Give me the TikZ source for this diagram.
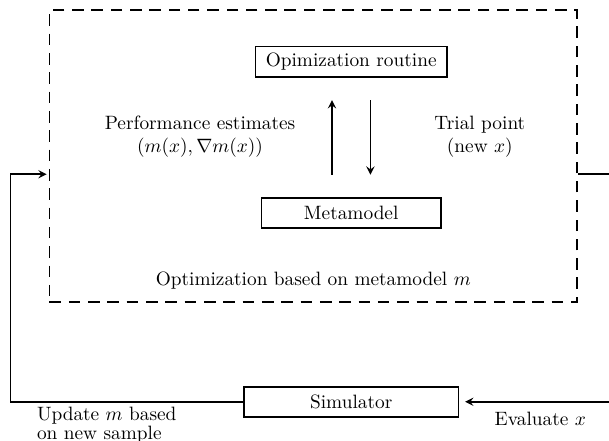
\documentclass[tikz,border=0pt]{standalone}
\usetikzlibrary{arrows}
\newcommand{\boxh}{0.55cm}
\newcommand{\sep}{0.35cm}
\newcommand{\gap}{0.41cm}

\begin{document}
\begin{tikzpicture}[
      block/.style={draw, line width=0.9pt, minimum height=\boxh},
      boundary/.style={draw, line width=0.9pt, dash pattern=on 6pt off 4pt},
      flow/.style={line width=0.9pt,->,>=stealth},
      inner/.style={line width=0.9pt,->,>=stealth,shorten >=\gap,shorten <=\gap},
      txt/.style={align=center}
    ]
    \useasboundingbox (0,0) rectangle (11.08,8.01);
    % the dashed region round the metamodel loop
    \node[boundary, minimum width=9.6cm, minimum height=5.32cm] (region) at (5.70,5.17) {};
    \node (regionlabel) at (5.70,2.91) {Optimization based on metamodel $m$};
    % the blocks
    \node[block, minimum width=3.48cm] (opt) at (6.39,6.89) {Opimization routine};
    \node[block, minimum width=3.26cm] (meta) at (6.39,4.13) {Metamodel};
    \node[block, minimum width=3.9cm] (sim) at (6.39,0.70) {Simulator};
    % the inner loop
    \draw[inner] ([xshift=-\sep]meta.north) -- ([xshift=-\sep]opt.south);
    \draw[inner] ([xshift=\sep]opt.south) -- ([xshift=\sep]meta.north);
    \node[txt] (perf) at (3.64,5.52) {Performance estimates\\$(m(x),\nabla m(x))$};
    \node[txt] (trial) at (8.73,5.52) {Trial point\\(new $x$)};
    % the outer loop
    \coordinate (lcorner) at (0.19,4.84);
    \coordinate (rcorner) at (11.2,4.84);
    \draw[flow, shorten >=1pt] (sim.west) -| (lcorner) -- (lcorner -| region.west);
    \draw[flow, shorten >=3pt] (rcorner -| region.east) -- (rcorner) |- (sim.east);
    \node[align=left, anchor=west] (update) at (0.55,0.28) {Update $m$ based\\[-2pt]on new sample};
    \node (eval) at (9.83,0.38) {Evaluate $x$};
\end{tikzpicture}
\end{document}
